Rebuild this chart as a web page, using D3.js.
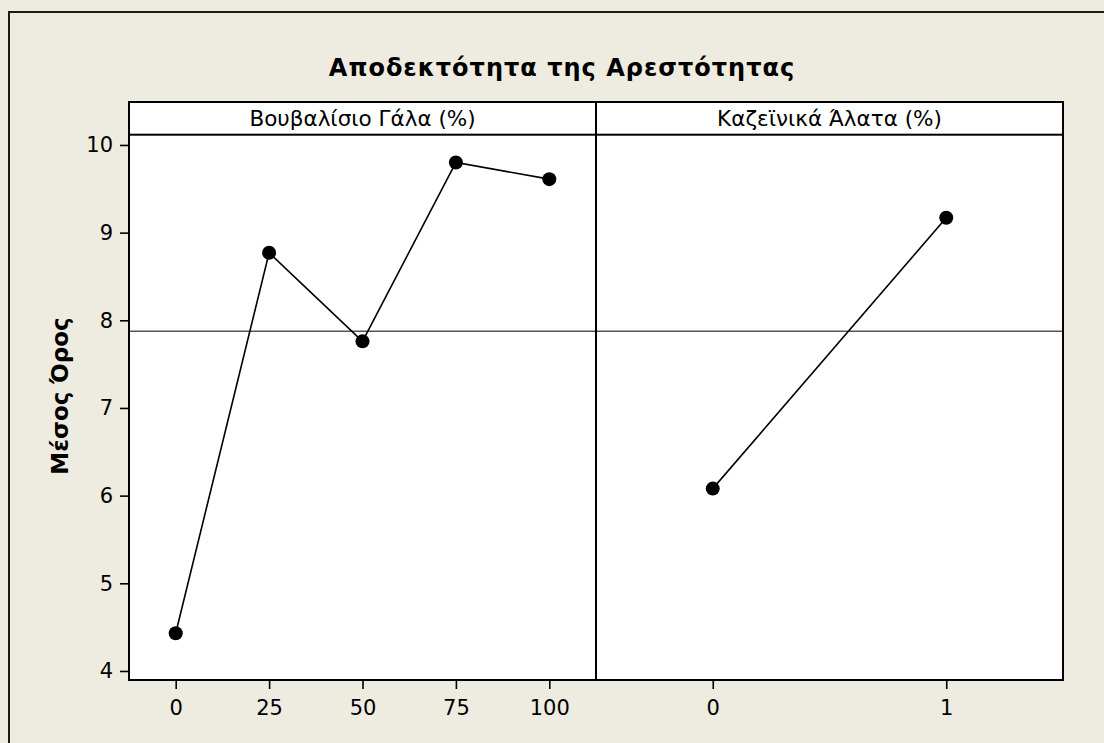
<!DOCTYPE html>
<html>
<head>
<meta charset="utf-8">
<script src="https://cdn.jsdelivr.net/npm/d3@7/dist/d3.min.js"></script>
<style>
  html, body { margin: 0; padding: 0; background: #eeebe1; }
  svg { display: block; }
  text { font-family: "DejaVu Sans", Verdana, sans-serif; fill: #000; }
</style>
</head>
<body>
<svg id="chart" width="1104" height="743"></svg>
<script>
// Main effects plot: mean acceptability by factor level
const title = "Αποδεκτότητα της Αρεστότητας";
const yTitle = "Μέσος Όρος";
const panelNames = ["Βουβαλίσιο Γάλα (%)", "Καζεϊνικά Άλατα (%)"];

const milkLevels = ["0", "25", "50", "75", "100"];
const milkMeans = [4.43, 8.77, 7.76, 9.80, 9.61];

const saltLevels = ["0", "1"];
const saltMeans = [6.08, 9.17];

const grandMean = 7.875;
const yTicks = [4, 5, 6, 7, 8, 9, 10];

// Layout
const W = 1104, H = 743;
const plotL = 129, plotR = 1063, plotT = 102, stripB = 134.7, plotB = 680;
const divX = 596;
const FONT = '"DejaVu Sans", Verdana, sans-serif';

const svg = d3.select("#chart");

// background + outer frame (left/top edges visible)
svg.append("rect").attr("width", W).attr("height", H).attr("fill", "#eeebe1");
svg.append("path")
  .attr("d", `M9,${H}V12H${W}`)
  .attr("fill", "none").attr("stroke", "#1a1a1a").attr("stroke-width", 2);

// title
svg.append("text")
  .attr("x", 562).attr("y", 76)
  .attr("text-anchor", "middle")
  .style("font-size", "24px").style("font-weight", "bold")
  .attr("letter-spacing", 1)
  .text(title);

// plot background
svg.append("rect")
  .attr("x", plotL).attr("y", plotT)
  .attr("width", plotR - plotL).attr("height", plotB - plotT)
  .attr("fill", "#fff");

const y = d3.scaleLinear().domain([3.897, 10.117]).range([plotB, stripB]);

const panels = [
  { name: panelNames[0], levels: milkLevels, means: milkMeans, x0: plotL, x1: divX },
  { name: panelNames[1], levels: saltLevels, means: saltMeans, x0: divX, x1: plotR }
];

panels.forEach(p => {
  const x = d3.scalePoint().domain(p.levels).range([p.x0, p.x1]).padding(0.5);
  const g = svg.append("g");

  // grand mean reference line
  g.append("line")
    .attr("x1", p.x0).attr("x2", p.x1)
    .attr("y1", y(grandMean)).attr("y2", y(grandMean))
    .attr("stroke", "#555").attr("stroke-width", 1.6);

  const pts = p.levels.map((l, i) => [x(l), y(p.means[i])]);
  g.append("path")
    .attr("d", d3.line()(pts))
    .attr("fill", "none").attr("stroke", "#000").attr("stroke-width", 1.6);

  g.selectAll("circle").data(pts).join("circle")
    .attr("cx", d => d[0]).attr("cy", d => d[1]).attr("r", 7)
    .attr("fill", "#000");

  // x axis
  const ax = svg.append("g")
    .attr("transform", `translate(0,${plotB})`)
    .call(d3.axisBottom(x).tickSize(9).tickPadding(11));
  ax.select(".domain").remove();
  ax.selectAll(".tick line").attr("stroke", "#000").attr("stroke-width", 1.6);
  ax.selectAll(".tick text").style("font-size", "21px").style("font-family", FONT);

  // strip header
  svg.append("rect")
    .attr("x", p.x0).attr("y", plotT)
    .attr("width", p.x1 - p.x0).attr("height", stripB - plotT)
    .attr("fill", "#fff").attr("stroke", "#000").attr("stroke-width", 2);
  svg.append("text")
    .attr("x", (p.x0 + p.x1) / 2).attr("y", 126)
    .attr("text-anchor", "middle").style("font-size", "21.5px")
    .text(p.name);
});

// y axis
const ay = svg.append("g")
  .attr("transform", `translate(${plotL},0)`)
  .call(d3.axisLeft(y).tickValues(yTicks).tickFormat(d3.format("d")).tickSize(9).tickPadding(7));
ay.select(".domain").remove();
ay.selectAll(".tick line").attr("stroke", "#000").attr("stroke-width", 1.6);
ay.selectAll(".tick text").style("font-size", "21px").style("font-family", FONT);

// panel borders
svg.append("rect")
  .attr("x", plotL).attr("y", plotT)
  .attr("width", plotR - plotL).attr("height", plotB - plotT)
  .attr("fill", "none").attr("stroke", "#000").attr("stroke-width", 2);
svg.append("line")
  .attr("x1", divX).attr("x2", divX).attr("y1", plotT).attr("y2", plotB)
  .attr("stroke", "#000").attr("stroke-width", 2);

// y title
svg.append("text")
  .attr("transform", "translate(68,396) rotate(-90)")
  .attr("text-anchor", "middle")
  .style("font-size", "23px").style("font-weight", "bold")
  .text(yTitle);
</script>
</body>
</html>
